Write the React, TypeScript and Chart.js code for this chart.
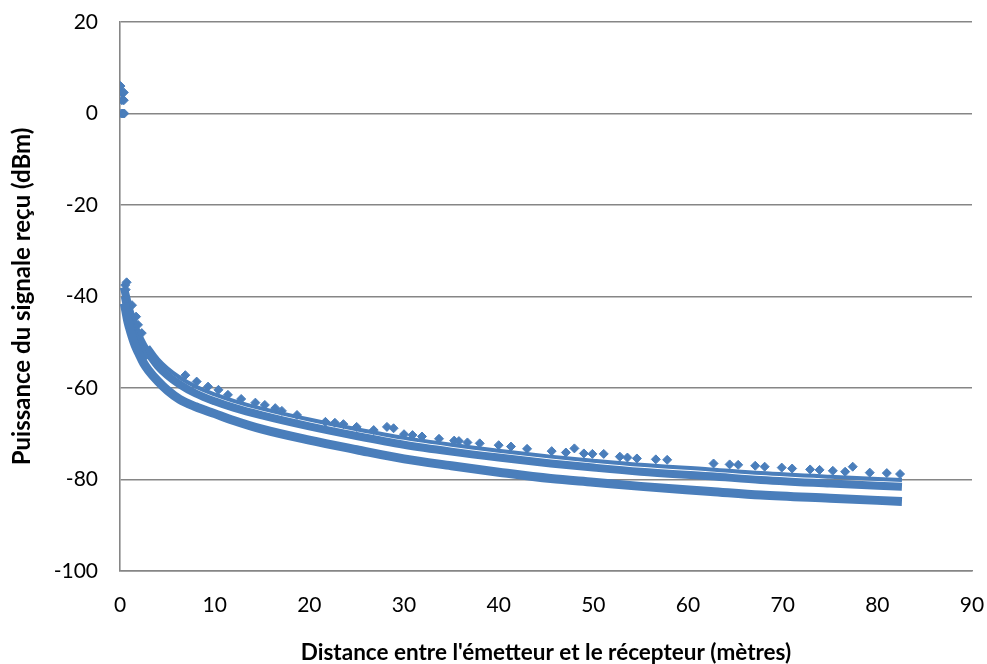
import React, { useEffect, useRef } from "react";
import { Chart, registerables } from "chart.js";

Chart.register(...registerables);

// Lower band (distance m, power dBm)
const lowDist = [0.45, 0.6, 0.8, 1, 1.3, 1.6, 2, 2.5, 3, 4, 5, 6.3, 8, 10, 12, 15, 20, 25, 30, 35, 40, 45.5, 50, 55, 62.4, 67.7, 75, 82.6];
const lowPow = [-41.5, -43, -45.2, -46.8, -48.9, -50.7, -52.5, -54.6, -56.1, -58.5, -60.5, -62.5, -64.1, -65.6, -67.1, -69, -71.4, -73.5, -75.5, -77, -78.4, -79.8, -80.6, -81.5, -82.6, -83.4, -84.1, -84.8];

// Dense region close to the emitter, where the two bands merge
const nearDist = [0.45, 0.6, 0.8, 1, 1.3, 1.6, 2, 2.5, 2.8];
const nearPow = [-40, -41.5, -43.5, -45, -47, -48.8, -50.6, -52.7, -53.8];

// Middle band
const midDist = [0.4, 0.5, 0.7, 1, 1.5, 2, 2.5, 3, 4, 5, 6.3, 8, 10, 12, 15, 20, 25, 30, 35, 40, 45.5, 50, 55, 62.4, 67.7, 75, 82.6];
const midPow = [-38, -38.8, -40.5, -43, -46.3, -48.8, -50.8, -52.4, -55.2, -57.2, -59.2, -61.2, -62.9, -64.3, -66, -68.4, -70.5, -72.4, -73.9, -75.2, -76.5, -77.4, -78.3, -79.3, -80.1, -80.9, -81.6];

// Thin upper band
const topDist = [3, 4, 5, 6.3, 8, 10, 12, 15, 20, 25, 30, 35, 40, 45.5, 50, 55, 62.4, 67.7, 75, 82.6];
const topPow = [-50.9, -53.7, -55.7, -57.7, -59.7, -61.4, -62.8, -64.5, -66.9, -69, -70.9, -72.4, -73.7, -75, -75.9, -76.8, -77.8, -78.6, -79.4, -80.1];

// Scattered individual measurements
const ptDist = [0.05, 0.2, 0.4, 0.2, 0.4, 0.15, 0.3, 0.45, 0.55, 0.7, 0.6, 1.27, 1.7, 1.9, 2.3,
  6.9, 8.1, 9.3, 10.4, 11.4, 12.8, 14.3, 15.3, 16.4, 17.1, 18.7,
  21.7, 22.7, 23.6, 25.0, 26.8, 28.2, 28.9, 30.0, 30.9, 31.9, 33.7, 35.3, 35.8, 36.7, 38.0,
  40.0, 41.3, 43.0, 45.6, 47.1, 48.0, 49.0, 49.9, 51.1, 52.8, 53.6, 54.6,
  56.6, 57.8, 62.7, 64.4, 65.3, 67.1, 68.1, 69.9, 71.0, 72.9, 73.9, 75.3, 76.6, 77.4, 79.2, 81.0, 82.4];
const ptPow = [6, 4.6, 4.6, 2.9, 2.9, 0, 0, 0, -37.5, -36.9, -38.5, -41.9, -44.4, -46.2, -48,
  -57.2, -58.6, -59.7, -60.4, -61.5, -62.4, -63.2, -63.7, -64.4, -65.0, -65.9,
  -67.4, -67.6, -67.9, -68.5, -69.2, -68.5, -68.8, -70.1, -70.3, -70.6, -71.1, -71.5, -71.6, -71.9, -72.1,
  -72.5, -72.8, -73.3, -73.8, -74.1, -73.2, -74.3, -74.4, -74.4, -75.0, -75.2, -75.4,
  -75.6, -75.7, -76.5, -76.7, -76.8, -77.0, -77.2, -77.4, -77.6, -77.8, -77.9, -78.1, -78.3, -77.2, -78.5, -78.6, -78.8];

const xTicks = [0, 10, 20, 30, 40, 50, 60, 70, 80, 90];
const yTicks = [-100, -80, -60, -40, -20, 0, 20];

const BLUE = "#4A7EBB";
const GRID = "#868686";
const FONT = "Lato, 'Open Sans', sans-serif";

const toXY = (xs: number[], ys: number[]) => xs.map((x, i) => ({ x, y: ys[i] }));

const band = (xs: number[], ys: number[], w: number) => ({
  data: toXY(xs, ys),
  showLine: true,
  borderColor: BLUE,
  backgroundColor: BLUE,
  borderWidth: w,
  pointRadius: 0,
  tension: 0.4,
  cubicInterpolationMode: "monotone" as const,
  borderCapStyle: "butt" as const,
});

export default function App() {
  const ref = useRef<HTMLCanvasElement | null>(null);
  useEffect(() => {
    if (!ref.current) return;
    const chart = new Chart(ref.current, {
      type: "scatter",
      data: {
        datasets: [
          band(lowDist, lowPow, 9),
          band(nearDist, nearPow, 7),
          band(midDist, midPow, 8),
          band(topDist, topPow, 4),
          {
            data: toXY(ptDist, ptPow),
            showLine: false,
            pointStyle: "rectRot",
            pointRadius: 4.5,
            borderWidth: 1,
            borderColor: BLUE,
            backgroundColor: BLUE,
          },
        ],
      },
      options: {
        animation: false,
        responsive: true,
        maintainAspectRatio: false,
        layout: { padding: { left: 0, right: 15, top: 22, bottom: 0 } },
        plugins: { legend: { display: false }, tooltip: { enabled: false } },
        scales: {
          x: {
            type: "linear",
            min: 0,
            max: 90,
            afterBuildTicks: (s: any) => { s.ticks = xTicks.map((v) => ({ value: v })); },
            afterFit: (s: any) => { s.height = 93; },
            grid: { display: true, color: "rgba(0,0,0,0)", drawTicks: true, tickLength: 22, tickColor: "rgba(0,0,0,0)" },
            border: { display: true, color: GRID, width: 1.6 },
            ticks: { color: "#000", padding: 0, font: { family: FONT, size: 21 } },
            title: {
              display: true,
              text: "Distance entre l'émetteur et le récepteur (mètres)",
              color: "#000",
              padding: { top: 0, bottom: 0 },
              font: { family: FONT, size: 22.5, weight: "bold", lineHeight: 1 },
            },
          },
          y: {
            type: "linear",
            min: -100,
            max: 20,
            afterBuildTicks: (s: any) => { s.ticks = yTicks.map((v) => ({ value: v })); },
            afterFit: (s: any) => { s.width = 120; },
            grid: { color: GRID, lineWidth: 1.6, drawTicks: true, tickLength: 22, tickColor: "rgba(0,0,0,0)" },
            border: { display: true, color: GRID, width: 1.6 },
            ticks: { color: "#000", padding: 0, font: { family: FONT, size: 21 } },
            title: {
              display: true,
              text: "Puissance du signale reçu (dBm)",
              color: "#000",
              padding: { top: 10, bottom: 0 },
              font: { family: FONT, size: 24, weight: "bold", lineHeight: 1 },
            },
          },
        },
      },
    });
    return () => chart.destroy();
  }, []);
  return (
    <div style={{ position: "absolute", left: 0, top: 0, width: 987, height: 664 }}>
      <canvas ref={ref} />
    </div>
  );
}
